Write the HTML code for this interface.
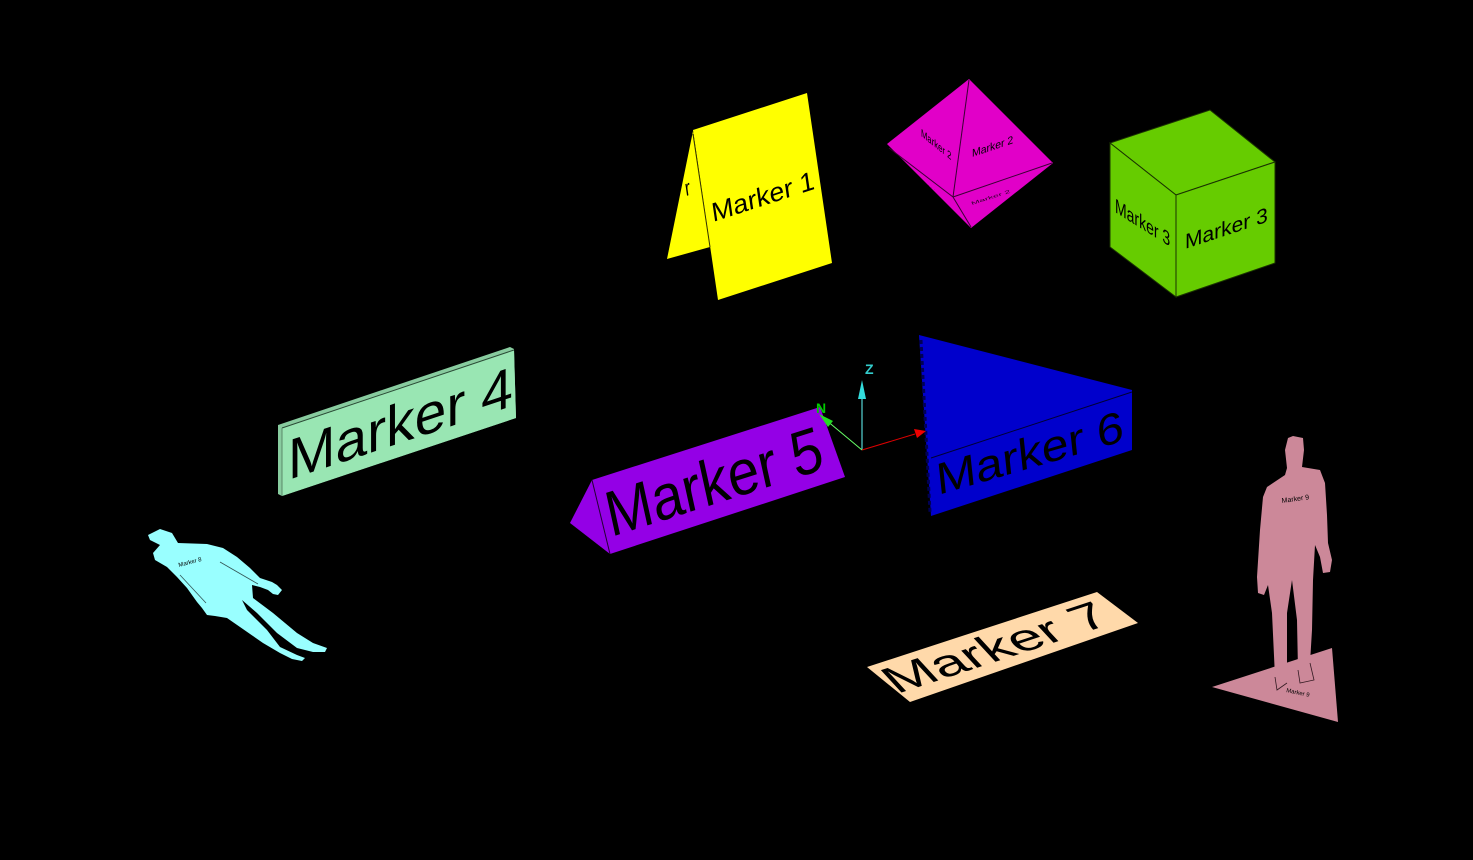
<!DOCTYPE html>
<html><head><meta charset="utf-8"><style>
html,body{margin:0;padding:0;background:#000;}
svg{display:block;}
text{font-family:"Liberation Sans",sans-serif;fill:#000;}
</style></head><body>
<svg width="1473" height="860" viewBox="0 0 1473 860" xmlns="http://www.w3.org/2000/svg">
<rect width="1473" height="860" fill="#000"/>

<!-- Marker 1 (yellow tent) -->
<polygon points="693,131 667,259 710,247" fill="#FFFF00"/>
<polygon points="693,130 807,93 832,263 718,300" fill="#FFFF00"/>
<line x1="693" y1="134" x2="710" y2="247" stroke="#333300" stroke-width="1"/>
<text font-size="26" transform="matrix(1,-0.325,0.147,1,713,222)">Marker 1</text>
<text font-size="22" transform="matrix(0.7,-0.2,0.147,1,686,196)">r</text>

<!-- Marker 2 (magenta octahedron) -->
<polygon points="969,79 1053,163 971,228 887,144" fill="#E100C8"/>
<g stroke="#3a0033" stroke-width="1" fill="none">
<line x1="969" y1="80" x2="953" y2="197"/>
<line x1="889" y1="148" x2="953" y2="197"/>
<line x1="953" y1="197" x2="1052" y2="163"/>
<line x1="953" y1="197" x2="971" y2="227"/>
</g>
<text font-size="11" transform="matrix(0.7,0.56,0,1,921,136)">Marker 2</text>
<text font-size="11" transform="matrix(0.95,-0.32,0,1,972,157)">Marker 2</text>
<text font-size="7" transform="matrix(1.4,-0.45,0.3,0.6,972,205)" fill-opacity="0.8">Marker 2</text>
<text font-size="6" transform="matrix(0.9,0.6,0,0.5,922,181)" fill-opacity="0.6">. . . . .</text>

<!-- Marker 3 (green cube) -->
<g fill="#66CC00" stroke="#1a3300" stroke-width="1">
<polygon points="1210,110 1275,162 1176,195 1110,143"/>
<polygon points="1110,143 1176,195 1176,297 1110,247"/>
<polygon points="1176,195 1275,162 1275,263 1176,297"/>
</g>
<text font-size="20" transform="matrix(0.7,0.44,0,1,1115,212)">Marker 3</text>
<text font-size="21" transform="matrix(1,-0.33,0,1,1185,249)">Marker 3</text>

<!-- Marker 4 (mint slab) -->
<polygon points="278,425 510,347 514,349 516,418 282,496 278,494" fill="#88CC9F"/>
<polygon points="282,428 514,350 516,418 282,496" fill="#99E6B3"/>
<line x1="282" y1="428" x2="514" y2="350" stroke="#2a4a35" stroke-width="1"/>
<line x1="282" y1="428" x2="282" y2="496" stroke="#5a8a6a" stroke-width="1"/>
<text font-size="57" transform="matrix(1,-0.33,0,1,288,480)">Marker 4</text>

<!-- Marker 5 (purple prism) -->
<polygon points="592,480 570,523 610,554" fill="#9400E6"/>
<polygon points="592,480 820,407 845,477 610,554" fill="#9400E6"/>
<line x1="592" y1="480" x2="610" y2="554" stroke="#220033" stroke-width="1"/>
<text font-size="62" transform="matrix(0.88,-0.28,0.22,1,611,537)">Marker 5</text>

<!-- Marker 6 (blue wedge) -->
<polygon points="919,335 1132,390 1132,450 931,516" fill="#0000CC"/>
<line x1="931" y1="458" x2="1132" y2="392" stroke="#000033" stroke-width="1"/>
<line x1="921" y1="340" x2="930" y2="512" stroke="#000055" stroke-width="3" stroke-dasharray="4,3"/>
<text font-size="46" transform="matrix(1.03,-0.30,0.1,0.95,938,495)">Marker 6</text>

<!-- Axes -->
<line x1="862" y1="450" x2="862" y2="394" stroke="#66FFFF" stroke-width="1"/>
<polygon points="862,380 858,399 866,399" fill="#33DDDD"/>
<text x="865" y="374" font-size="14" font-weight="bold" style="fill:#33CCCC">Z</text>
<line x1="862" y1="450" x2="826" y2="420" stroke="#66FF66" stroke-width="1"/>
<polygon points="819,414 833,421 828,427" fill="#22DD22"/>
<text x="816" y="413" font-size="14" font-weight="bold" style="fill:#00CC00">N</text>
<line x1="862" y1="450" x2="915" y2="434" stroke="#DD0000" stroke-width="1"/>
<polygon points="926,431 914,429 917,438" fill="#EE0000"/>

<!-- Marker 7 (peach flat plate) -->
<polygon points="867,667 1097,592 1138,623 910,702" fill="#FFD9AA"/>
<text font-size="50" transform="matrix(1.1,-0.36,0.6,0.65,897,694)">Marker 7</text>

<!-- Marker 8 (cyan lying human) -->
<path d="M148,535 L160,529 L172,533 L178,543 L207,544 L223,548 L237,557 L250,568 L260,578 L272,582 L277,585 L282,590 L278,595 L273,594 L268,590 L260,587 L252,585 L253,598 L273,613 L297,633 L313,643 L327,648 L325,652 L313,652 L297,648 L277,633 L257,613 L242,600 L247,610 L267,630 L280,647 L297,655 L305,658 L302,661 L292,659 L280,653 L263,643 L240,627 L227,618 L215,616 L207,615 L202,608 L197,602 L187,588 L177,577 L167,567 L155,560 L153,553 L160,545 L150,540 Z" fill="#99FFFF"/>
<line x1="220" y1="562" x2="258" y2="584" stroke="#335555" stroke-width="0.8"/>
<line x1="180" y1="575" x2="206" y2="603" stroke="#335555" stroke-width="0.8"/>
<text font-size="6" transform="translate(179,567) rotate(-15)">Marker 8</text>

<!-- Marker 9 (pink standing human + floor triangle) -->
<polygon points="1212,687 1332,648 1338,722" fill="#CC8899"/>
<path d="M1288,438 L1293,436 L1303,438 L1304,450 L1302,467 L1320,470 L1325,483 L1327,515 L1328,543 L1332,560 L1330,572 L1323,573 L1320,557 L1315,545 L1313,580 L1312,630 L1310,663 L1314,680 L1300,683 L1298,670 L1297,620 L1292,580 L1287,613 L1287,683 L1277,690 L1275,677 L1272,613 L1268,585 L1264,595 L1258,593 L1257,577 L1260,530 L1263,497 L1267,487 L1285,475 L1287,468 L1285,450 Z" fill="#CC8899"/>
<path d="M1310,663 L1314,680 L1300,683 L1298,670 M1287,683 L1277,690 L1275,677" stroke="#331a22" stroke-width="0.8" fill="none"/>
<text font-size="7" transform="translate(1282,503) rotate(-8)">Marker 9</text>
<text font-size="6" transform="translate(1286,692) rotate(12)">Marker 9</text>
</svg>
</body></html>
